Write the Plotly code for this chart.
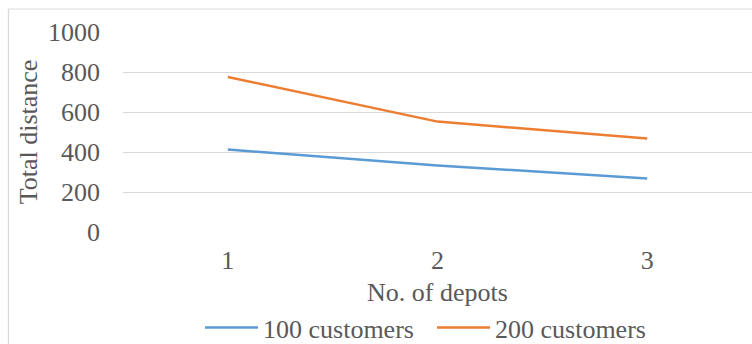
import plotly.graph_objects as go

depots = ["1", "2", "3"]
customers_100 = [412, 333, 267]
customers_200 = [775, 552, 467]
y_ticks = [0, 200, 400, 600, 800, 1000]

FONT = "Times New Roman, Liberation Serif, serif"
GREY = "#595959"
FS = 26

def f(size=FS):
    return dict(family=FONT, size=size, color=GREY)

fig = go.Figure()
fig.add_trace(go.Scatter(x=depots, y=customers_100, mode="lines", name="100 customers",
                         line=dict(color="#5B9BD5", width=2.5)))
fig.add_trace(go.Scatter(x=depots, y=customers_200, mode="lines", name="200 customers",
                         line=dict(color="#ED7D31", width=2.5)))

W, H = 752, 344
L, R, T, B = 123, 0, 32, 112
pw, ph = W - L - R, H - T - B

# chart frame (left and top edges visible in the window)
fig.add_shape(type="rect", xref="paper", yref="paper",
              x0=(8.5 - L) / pw, x1=(W + 20 - L) / pw,
              y0=(H - B - (H + 20)) / ph, y1=(H - B - 9) / ph,
              line=dict(color="#D9D9D9", width=1.2), fillcolor="rgba(0,0,0,0)",
              layer="below")

fig.update_layout(
    width=W, height=H,
    margin=dict(l=L, r=R, t=T, b=B, autoexpand=False),
    paper_bgcolor="white", plot_bgcolor="white",
    font=f(),
    showlegend=True,
    legend=dict(orientation="h", x=(200 - L) / pw, xanchor="left", y=-0.36, yanchor="top",
                font=f(), itemwidth=53, entrywidth=164, entrywidthmode="pixels",
                bgcolor="rgba(0,0,0,0)"),
    xaxis=dict(type="category", range=[-0.5, 2.5], showgrid=False, zeroline=False,
               showline=False, ticks="", tickfont=f(), ticklabelstandoff=10,
               automargin=False,
               title=dict(text="No. of depots", font=f(), standoff=8)),
    yaxis=dict(range=[0, 1000], tickvals=y_ticks, showgrid=True, gridcolor="#D9D9D9",
               gridwidth=1.2, zeroline=False, showline=False, ticks="",
               tickfont=f(), ticklabelstandoff=22, automargin=False,
               title=dict(text="Total distance", font=f(), standoff=2)),
)

fig.write_html("out.html")
